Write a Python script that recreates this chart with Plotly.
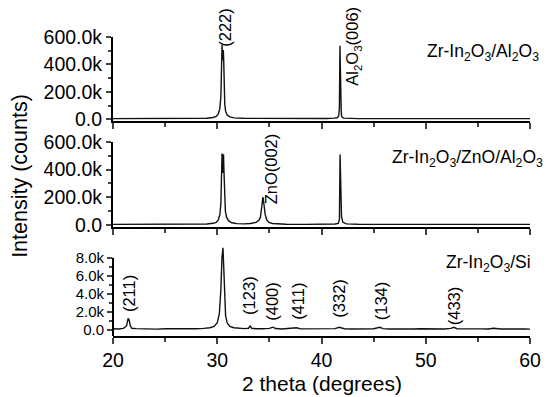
import plotly.graph_objects as go

# ---- data ----
# Panel 1: Zr-In2O3/Al2O3
x_al = [20.0, 25.0, 28.0, 29.0, 29.6, 29.9, 30.1, 30.25, 30.35, 30.42, 30.46, 30.5,
        30.54, 30.58, 30.62, 30.66, 30.72, 30.8, 30.95, 31.2, 31.6, 32.5, 35.0, 38.0,
        40.5, 41.2, 41.5, 41.65, 41.72, 41.77, 41.8, 41.83, 41.86, 41.89, 41.93, 42.0,
        42.15, 42.5, 43.5, 50.0, 60.0]
y_al = [6e3, 6e3, 7e3, 9e3, 14e3, 22e3, 40e3, 80e3, 170e3, 380e3, 540e3, 450e3,
        430e3, 505e3, 430e3, 230e3, 110e3, 60e3, 32e3, 18e3, 11e3, 8e3, 6e3, 6e3,
        7e3, 9e3, 12e3, 25e3, 90e3, 535e3, 330e3, 340e3, 150e3, 60e3, 25e3, 14e3,
        9e3, 7e3, 6e3, 6e3, 6e3]

# Panel 2: Zr-In2O3/ZnO/Al2O3
x_zn = [20.0, 25.0, 28.0, 29.0, 29.6, 29.9, 30.1, 30.25, 30.35, 30.42, 30.46, 30.52,
        30.56, 30.6, 30.64, 30.7, 30.78, 30.9, 31.1, 31.4, 31.9, 32.6, 33.2, 33.7,
        34.0, 34.15, 34.27, 34.38, 34.48, 34.6, 34.75, 34.95, 35.3, 35.8, 36.6, 38.5,
        40.5, 41.3, 41.6, 41.72, 41.78, 41.82, 41.86, 41.92, 42.05, 42.4, 43.5, 50.0, 60.0]
y_zn = [5e3, 5e3, 6e3, 8e3, 13e3, 20e3, 38e3, 75e3, 160e3, 370e3, 516e3, 375e3,
        420e3, 510e3, 400e3, 210e3, 100e3, 55e3, 30e3, 17e3, 11e3, 9e3, 12e3, 20e3,
        35e3, 60e3, 120e3, 202e3, 150e3, 75e3, 38e3, 20e3, 12e3, 8e3, 6e3, 5e3,
        6e3, 8e3, 12e3, 40e3, 509e3, 380e3, 200e3, 60e3, 20e3, 9e3, 6e3, 5e3, 5e3]

# Panel 3: Zr-In2O3/Si
x_si = [20.0, 20.5, 21.0, 21.3, 21.45, 21.55, 21.65, 21.8, 22.2, 22.8,
        23.5, 24.2, 25.0, 25.8, 26.5, 27.3, 28.0, 28.7, 29.3, 29.7,
        30.0, 30.2, 30.35, 30.45, 30.55, 30.62, 30.7, 30.8, 30.95, 31.2,
        31.6, 32.1, 32.6, 33.0, 33.15, 33.3, 33.7, 34.3, 35.0, 35.35,
        35.6, 36.2, 37.0, 37.6, 38.0, 38.6, 39.3, 40.0, 40.7, 41.3,
        41.7, 41.9, 42.2, 42.9, 43.6, 44.3, 45.0, 45.6, 45.9, 46.5,
        47.2, 48.0, 48.8, 49.5, 50.2, 51.0, 51.8, 52.4, 52.7, 53.0,
        53.7, 54.5, 55.3, 56.0, 56.5, 57.2, 58.0, 58.8, 59.5, 60.0]
y_si = [150, 120, 180, 450, 1300, 1100, 500, 200, 160, 120,
        150, 100, 140, 120, 150, 110, 140, 180, 250, 400,
        800, 1800, 4500, 8000, 9100, 7000, 3500, 1600, 800, 400,
        250, 180, 160, 200, 450, 200, 140, 150, 180, 320,
        170, 120, 150, 250, 130, 140, 100, 150, 120, 160,
        300, 250, 140, 120, 150, 100, 140, 300, 150, 120,
        100, 140, 110, 150, 120, 150, 120, 180, 300, 150,
        120, 100, 130, 110, 200, 120, 140, 100, 120, 100]

assert len(x_al) == len(y_al) and len(x_zn) == len(y_zn) and len(x_si) == len(y_si)

big_ticks = [0, 200e3, 400e3, 600e3]
big_labels = ["0.0", "200.0k", "400.0k", "600.0k"]
big_minor = [100e3, 300e3, 500e3]
small_ticks = [0, 2000, 4000, 6000, 8000]
small_labels = ["0.0", "2.0k", "4.0k", "6.0k", "8.0k"]
small_minor = [1000, 3000, 5000, 7000]
x_ticks = [20, 30, 40, 50, 60]
x_minor = [25, 35, 45, 55]

sample_names = ["Zr-In<sub>2</sub>O<sub>3</sub>/Al<sub>2</sub>O<sub>3</sub>",
                "Zr-In<sub>2</sub>O<sub>3</sub>/ZnO/Al<sub>2</sub>O<sub>3</sub>",
                "Zr-In<sub>2</sub>O<sub>3</sub>/Si"]
peak_labels = ["(222)", "Al<sub>2</sub>O<sub>3</sub>(006)", "ZnO(002)",
               "(211)", "(123)", "(400)", "(411)", "(332)", "(134)", "(433)"]
peak_pos = [30.75, 43.08, 35.14, 21.6, 33.1, 35.3, 37.8, 41.7, 45.7, 52.7]

# ---- figure ----
FONT = "Liberation Sans, Arial, sans-serif"
line = dict(color="#111111", width=1.4)

fig = go.Figure()
fig.add_trace(go.Scatter(x=x_al, y=y_al, mode="lines", line=line, xaxis="x", yaxis="y"))
fig.add_trace(go.Scatter(x=x_zn, y=y_zn, mode="lines", line=line, xaxis="x2", yaxis="y2"))
fig.add_trace(go.Scatter(x=x_si, y=y_si, mode="lines", line=line, xaxis="x3", yaxis="y3"))

def xax(anchor, labels):
    d = dict(anchor=anchor, domain=[0, 1], range=[20, 60], tickvals=x_ticks,
             showticklabels=labels, ticks="outside", ticklen=6, tickwidth=1.5,
             minor=dict(tickvals=x_minor, ticks="outside", ticklen=4, tickwidth=1.5),
             showline=True, linewidth=2, linecolor="black", showgrid=False,
             zeroline=False, tickfont=dict(family=FONT, size=19.5, color="black"))
    if anchor != "y3":
        d["matches"] = "x3"
    return d

def yax(anchor, dom, rng, tv, tt, mv, fsize, showline=True):
    return dict(anchor=anchor, domain=dom, range=rng, tickvals=tv, ticktext=tt,
                ticks="outside", ticklen=5, tickwidth=1.5,
                minor=dict(tickvals=mv, ticks="outside", ticklen=3, tickwidth=1.5),
                showline=showline, linewidth=2, linecolor="black", showgrid=False,
                zeroline=False, tickfont=dict(family=FONT, size=fsize, color="black"))

y3_range = [-660, 9200]

fig.update_layout(
    width=553, height=397,
    margin=dict(l=113, r=12, t=20, b=61),
    paper_bgcolor="white", plot_bgcolor="white",
    showlegend=False,
    font=dict(family=FONT, color="black"),
    xaxis=xax("y", False),
    xaxis2=xax("y2", False),
    xaxis3=xax("y3", True),
    yaxis=yax("x", [0.6867, 0.9557], [-12e3, 600e3], big_ticks, big_labels, big_minor, 19.5),
    yaxis2=yax("x2", [0.3481, 0.6203], [-14e3, 600e3], big_ticks, big_labels, big_minor, 19.5),
    yaxis3=yax("x3", [0.0, 0.2848], y3_range, small_ticks, small_labels, small_minor, 15, showline=False),
)

# left axis line of the bottom panel ends at 8.0k
fig.add_shape(type="line", xref="x3 domain", yref="y3", x0=0, x1=0,
              y0=y3_range[0], y1=8000, line=dict(color="black", width=2))

ann = []
# sample names
name_pos = [(1.026, 0.905), (1.037, 0.5665), (1.007, 0.231)]
for t, (px, py) in zip(sample_names, name_pos):
    ann.append(dict(text=t, xref="paper", yref="paper", x=px, y=py, xanchor="right",
                    yanchor="middle", showarrow=False, font=dict(family=FONT, size=17.5)))
# peak labels (rotated)
peak_y = [0.985, 0.926, 0.535, 0.136, 0.130, 0.111, 0.111, 0.120, 0.114, 0.098]
for t, px, py in zip(peak_labels, peak_pos, peak_y):
    ann.append(dict(text=t, xref="x3", yref="paper", x=px, y=py, xanchor="center",
                    yanchor="middle", textangle=-90, showarrow=False,
                    font=dict(family=FONT, size=16.5)))
# axis titles
ann.append(dict(text="2 theta (degrees)", xref="paper", yref="paper", x=0.5, y=-0.152,
                xanchor="center", yanchor="middle", showarrow=False,
                font=dict(family=FONT, size=21)))
ann.append(dict(text="Intensity (counts)", xref="paper", yref="paper", x=-0.222, y=0.513,
                xanchor="center", yanchor="middle", textangle=-90, showarrow=False,
                font=dict(family=FONT, size=21.5)))
fig.update_layout(annotations=ann)

fig.write_html("out.html")
